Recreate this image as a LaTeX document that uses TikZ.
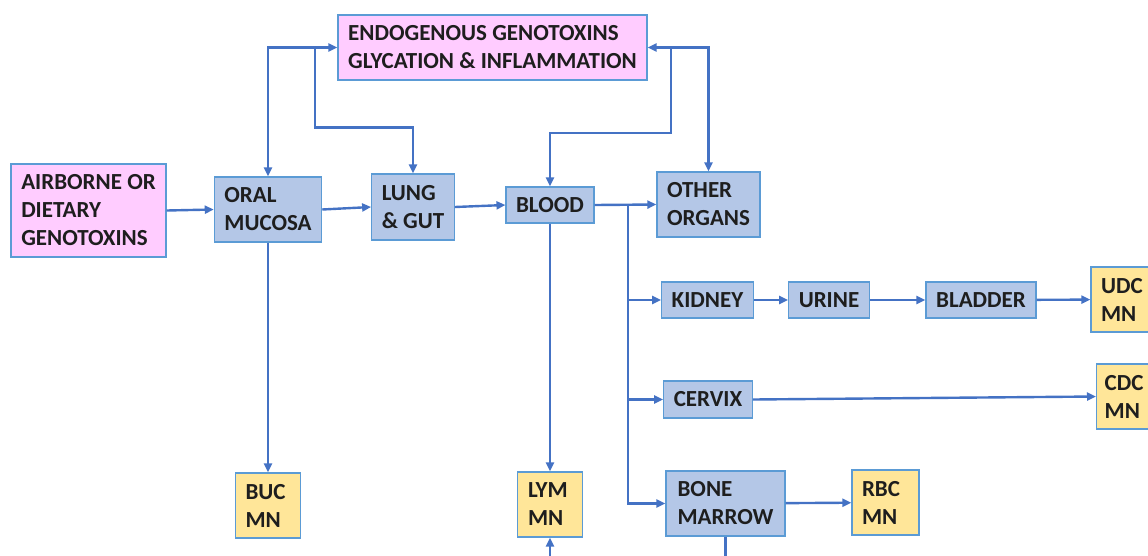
\documentclass[tikz,border=0pt]{standalone}
\usepackage{fontspec}
\setmainfont{Carlito}
\usetikzlibrary{arrows.meta, positioning, calc}

\definecolor{pinkfill}{HTML}{FFCCFF}
\definecolor{bluefill}{HTML}{B4C7E7}
\definecolor{yellowfill}{HTML}{FFE699}
\definecolor{boxline}{HTML}{5B9BD5}
\definecolor{arrowblue}{HTML}{4472C4}
\definecolor{textdark}{HTML}{1E1E1E}

\begin{document}
\begin{tikzpicture}[
    x=1pt, y=-1pt,
    box/.style = {
        rectangle, draw=boxline, line width=1.3pt,
        inner xsep=10pt, inner ysep=0pt, align=flush left,
        minimum height=65pt, text=textdark,
        font=\bfseries\fontsize{23}{28}\selectfont
    },
    pinkbox/.style = {box, fill=pinkfill},
    bluebox/.style = {box, fill=bluefill},
    yellowbox/.style = {box, fill=yellowfill, minimum width=65pt},
    arrow/.style = {-{Triangle[length=9pt, width=8pt]}, line width=2.4pt, arrowblue},
    dblarrow/.style = {{Triangle[length=9pt, width=8pt]}-{Triangle[length=9pt, width=8pt]},
        line width=2.4pt, arrowblue},
    plain/.style = {line width=2.4pt, arrowblue}
]
\path[use as bounding box] (0,0) rectangle (1148,555);
\clip (0,0) rectangle (1148,555);

% Sources
\node[pinkbox, minimum width=309pt] (endo) at (492.5,47.5)
    {ENDOGENOUS GENOTOXINS\\GLYCATION \& INFLAMMATION};
\node[pinkbox, minimum width=155pt, minimum height=93pt] (air) at (88.5,210.5)
    {AIRBORNE OR\\DIETARY\\GENOTOXINS};

% Organs
\node[bluebox, minimum width=107pt] (oral) at (268,209.5) {ORAL\\MUCOSA};
\node[bluebox, minimum width=82pt, minimum height=66pt] (lung) at (413,207) {LUNG\\\& GUT};
\node[bluebox, minimum width=87pt, minimum height=36pt] (blood) at (550,205) {BLOOD};
\node[bluebox, minimum width=103pt] (other) at (708.5,204.5) {OTHER\\ORGANS};
\node[bluebox, minimum width=91pt, minimum height=36pt] (kidney) at (707.5,300) {KIDNEY};
\node[bluebox, minimum width=80pt, minimum height=36pt] (urine) at (829,300) {URINE};
\node[bluebox, minimum width=110pt, minimum height=36pt] (bladder) at (981,300) {BLADDER};
\node[bluebox, minimum width=88pt, minimum height=37pt] (cervix) at (708,399.5) {CERVIX};
\node[bluebox, minimum width=119pt] (bm) at (725.5,503.5) {BONE\\MARROW};

% Micronucleus assays
\node[yellowbox, text width=50pt] (udc) at (1126,299.5) {UDC\\MN};
\node[yellowbox, anchor=west, text width=54pt, inner xsep=8pt,
    minimum width=70pt] (cdc) at (1096,396.5) {CDC\\MN};
\node[yellowbox, text width=47pt] (rbc) at (885.5,502.5) {RBC\\MN};
\node[yellowbox, text width=44pt] (lym) at (550,504.5) {LYM\\MN};
\node[yellowbox, text width=45pt] (buc) at (268,505.5) {BUC\\MN};

% Junctions
\coordinate (ljoin) at (315,47.5);
\coordinate (rjoin) at (671,47.5);
\coordinate (split) at (628,205);
\coordinate (lymin) at (550,562);
\coordinate (bmout) at (725.5,562);

% Arrows
\draw[dblarrow] (oral.north) |- (endo.west);
\draw[arrow] (ljoin) -- ++(0,80) -| (lung.north);
\draw[dblarrow] (other.north) |- (endo.east);
\draw[arrow] (rjoin) -- ++(0,85.5) -| (blood.north);
\draw[arrow] (air.east) -- (oral.west);
\draw[arrow] (oral.east) -- (lung.west);
\draw[arrow] (lung.east) -- (blood.west);
\draw[arrow] (blood.east) -- (other.west);
\draw[arrow] (oral) -- (buc);
\draw[arrow] (blood) -- (lym);
\draw[arrow] (split) |- (kidney.west);
\draw[arrow] (split) |- (cervix.west);
\draw[arrow] (split) |- (bm.west);
\draw[arrow] (kidney) -- (urine);
\draw[arrow] (urine) -- (bladder);
\draw[arrow] (bladder) -- (udc);
\draw[arrow] (cervix.east) -- (cdc.west);
\draw[arrow] (bm) -- (rbc);
\draw[arrow] (lymin) -- (lym.south);
\draw[plain] (bm.south) -- (bmout);

\end{tikzpicture}
\end{document}
